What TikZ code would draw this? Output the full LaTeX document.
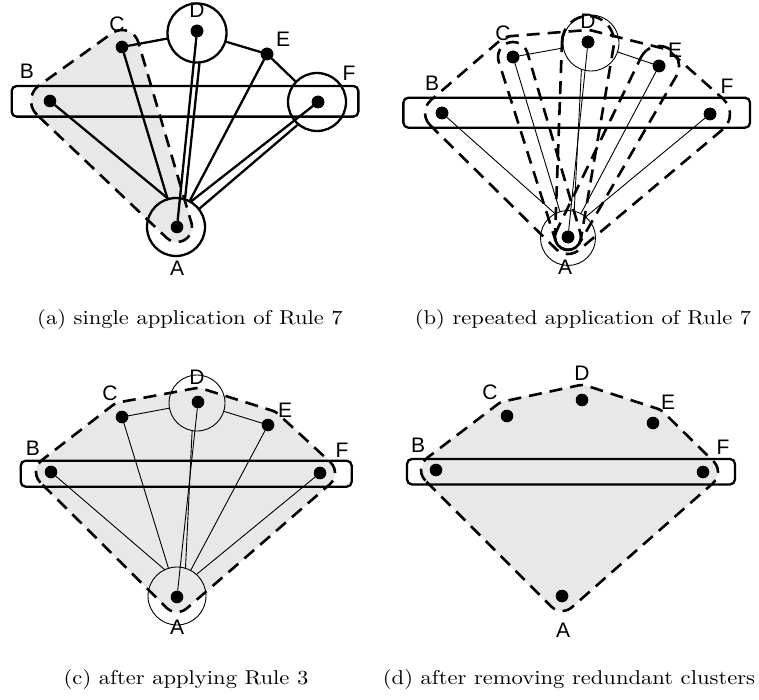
\documentclass[tikz,border=0pt]{standalone}
\usepackage{fontspec}
\usepackage{graphicx}
\newfontfamily\labelfont{Liberation Sans}
\newfontfamily\captionfont{lmroman10-regular.otf}
\usetikzlibrary{calc}

\tikzset{
  dot/.style={circle, fill=black, inner sep=0pt, outer sep=0pt, minimum size=12.6pt},
  thickring/.style={circle, draw, line width=2.3pt, inner sep=0pt, outer sep=0pt, minimum size=#1},
  thinring/.style={circle, draw, line width=0.9pt, inner sep=0pt, outer sep=0pt, minimum size=#1},
  band/.style={draw, line width=2.3pt, rounded corners=5pt, inner sep=0pt, outer sep=0pt},
  vlabel/.style={font=\labelfont\fontsize{21pt}{21pt}\selectfont, inner sep=0pt},
  subcaption/.style={font=\captionfont\fontsize{20pt}{24pt}\selectfont, inner sep=0pt, anchor=base},
  heavy/.style={line width=2.3pt},
  light/.style={line width=0.9pt},
  hullline/.style={draw, line width=2.6pt, dash pattern=on 13pt off 8pt},
  hullarea/.style={hullline, fill=black!9},
}

% Offset hull around a clockwise list of vertices, each with its own radius.
% #1 style, #2/#3 last vertex and radius, #4/#5 first vertex and radius,
% #6 list of prev/r/vertex/r/next/r triples.
\newcommand\clusterhull[6]{%
  \path[#1] let \p1=(#2.center), \p2=(#4.center),
      \n1={atan2(\y2-\y1,\x2-\x1)+acos((#3-#5)/veclen(\x2-\x1,\y2-\y1))}
    in ($(#4.center)+(\n1:#5)$)
    \foreach \va/\ra/\vb/\rb/\vc/\rc in {#6} {
      let \p1=(\va.center), \p2=(\vb.center), \p3=(\vc.center),
          \n1={atan2(\y2-\y1,\x2-\x1)+acos((\ra-\rb)/veclen(\x2-\x1,\y2-\y1))},
          \n2={atan2(\y3-\y2,\x3-\x2)+acos((\rb-\rc)/veclen(\x3-\x2,\y3-\y2))},
          \n3={mod(\n1-\n2+720,360)}
      in -- ($(\vb.center)+(\n1:\rb)$) arc[start angle=\n1, delta angle=-\n3, radius=\rb]
    } -- cycle;%
}

\begin{document}
\begin{tikzpicture}[x=1pt,y=1pt]
\useasboundingbox (0,0) rectangle (759,-700);

% ---------------- (a) single application of Rule 7
\node[dot] (aA) at (177,-227) {};
\node[dot] (aB) at (50,-101) {};
\node[dot] (aC) at (122,-47) {};
\node[dot] (aD) at (197,-31) {};
\node[dot] (aE) at (267,-54) {};
\node[dot] (aF) at (318,-102) {};
\clusterhull{hullarea}{aA}{15}{aB}{19}{aA/15/aB/19/aC/17, aB/19/aC/17/aA/15, aC/17/aA/15/aB/19}
\node[thickring=59pt] (aDc) at (197,-33) {};
\node[thickring=58pt] (aAc) at (176,-227) {};
\node[thickring=58pt] (aFc) at (317,-102) {};
\node[band, minimum width=346.7pt, minimum height=30.7pt] (aR) at (185,-101.3) {};
\draw[heavy] (aC) -- (aDc);
\draw[heavy] (aDc) -- (aE);
\draw[heavy] (aE) -- (aFc);
\draw[heavy] (aB) -- (aAc.105);
\draw[heavy] (aC) -- (aAc);
\draw[heavy] (aD) -- (aA);
\draw[heavy] (aDc.-85) -- (aAc.72);
\draw[heavy] (aE) -- (aAc);
\draw[heavy] (aF) -- (aAc.60);
\draw[heavy] (aFc.-130) -- (aAc.38);
\foreach \v in {A,B,C,D,E,F} \node[dot] at (a\v) {};
\node[vlabel] (aAl) at (177,-268) {A};
\node[vlabel] (aBl) at (27,-71) {B};
\node[vlabel] (aCl) at (117,-24) {C};
\node[vlabel] (aDl) at (197,-10) {D};
\node[vlabel] (aEl) at (283,-39) {E};
\node[vlabel] (aFl) at (349,-73) {F};
\node[subcaption] (capA) at (190,-324) {\scalebox{1.13}[1]{(a) single application of Rule 7}};

% ---------------- (b) repeated application of Rule 7
\node[dot] (bA) at (568,-237) {};
\node[dot] (bB) at (442,-113) {};
\node[dot] (bC) at (513,-57) {};
\node[dot] (bD) at (588,-42) {};
\node[dot] (bE) at (659,-66) {};
\node[dot] (bF) at (710,-114) {};
\clusterhull{hullline}{bA}{17}{bB}{17}{bA/17/bB/17/bC/21, bB/17/bC/21/bD/12, bC/21/bD/12/bE/18, bD/12/bE/18/bF/20, bE/18/bF/20/bA/17, bF/20/bA/17/bB/17}
\clusterhull{hullline}{bA}{13}{bC}{15}{bA/13/bC/15/bA/13, bC/15/bA/13/bC/15}
\clusterhull{hullline}{bA}{13}{bD}{26}{bA/13/bD/26/bA/13, bD/26/bA/13/bD/26}
\clusterhull{hullline}{bA}{13}{bE}{20}{bA/13/bE/20/bA/13, bE/20/bA/13/bE/20}
\node[thinring=56pt] (bDc) at (591,-43) {};
\node[thinring=55pt] (bAc) at (568,-238) {};
\node[band, minimum width=346.7pt, minimum height=30pt] (bR) at (576.7,-112.7) {};
\draw[light] (bC) -- (bDc);
\draw[light] (bDc) -- (bE);
\draw[light] (bB) -- (bAc.118);
\draw[light] (bC) -- (bAc);
\draw[light] (bD) -- (bA);
\draw[light] (bDc.-110) -- (bAc.77);
\draw[light] (bE) -- (bAc);
\draw[light] (bF) -- (bAc.50);
\foreach \v in {A,B,C,D,E,F} \node[dot] at (b\v) {};
\node[vlabel] (bAl) at (565,-267) {A};
\node[vlabel] (bBl) at (432,-83) {B};
\node[vlabel] (bCl) at (503,-33) {C};
\node[vlabel] (bDl) at (588,-21) {D};
\node[vlabel] (bEl) at (675,-50) {E};
\node[vlabel] (bFl) at (727,-86) {F};
\node[subcaption] (capB) at (583,-324) {\scalebox{1.13}[1]{(b) repeated application of Rule 7}};

% ---------------- (c) after applying Rule 3
\node[dot] (cA) at (177,-597) {};
\node[dot] (cB) at (51,-472) {};
\node[dot] (cC) at (122,-417) {};
\node[dot] (cD) at (198,-402) {};
\node[dot] (cE) at (268,-425) {};
\node[dot] (cF) at (320,-473) {};
\clusterhull{hullarea}{cA}{15}{cB}{15}{cA/15/cB/15/cC/15, cB/15/cC/15/cD/14, cC/15/cD/14/cE/15, cD/14/cE/15/cF/15, cE/15/cF/15/cA/15, cF/15/cA/15/cB/15}
\node[thinring=56pt] (cDc) at (197,-403) {};
\node[thinring=58pt] (cAc) at (177,-596) {};
\node[band, minimum width=331pt, minimum height=26pt] (cR) at (186.2,-473.7) {};
\draw[light] (cC) -- (cDc);
\draw[light] (cDc) -- (cE);
\draw[light] (cB) -- (cAc.115);
\draw[light] (cC) -- (cAc);
\draw[light] (cD) -- (cA);
\draw[light] (cDc.-100) -- (cAc.73);
\draw[light] (cE) -- (cAc);
\draw[light] (cF) -- (cAc.48);
\foreach \v in {A,B,C,D,E,F} \node[dot] at (c\v) {};
\node[vlabel] (cAl) at (177,-627) {A};
\node[vlabel] (cBl) at (33,-448) {B};
\node[vlabel] (cCl) at (110,-393) {C};
\node[vlabel] (cDl) at (197,-377) {D};
\node[vlabel] (cEl) at (285,-410) {E};
\node[vlabel] (cFl) at (342,-450) {F};
\node[subcaption] (capC) at (186,-684) {\scalebox{1.13}[1]{(c) after applying Rule 3}};

% ---------------- (d) after removing redundant clusters
\node[dot] (dA) at (562,-596) {};
\node[dot] (dB) at (436,-470) {};
\node[dot] (dC) at (507,-416) {};
\node[dot] (dD) at (582,-400) {};
\node[dot] (dE) at (653,-423) {};
\node[dot] (dF) at (703,-472) {};
\clusterhull{hullarea}{dA}{15}{dB}{15}{dA/15/dB/15/dC/15, dB/15/dC/15/dD/15, dC/15/dD/15/dE/15, dD/15/dE/15/dF/15, dE/15/dF/15/dA/15, dF/15/dA/15/dB/15}
\node[band, minimum width=328pt, minimum height=25.5pt] (dR) at (571,-471.7) {};
\foreach \v in {A,B,C,D,E,F} \node[dot] at (d\v) {};
\node[vlabel] (dAl) at (563,-630) {A};
\node[vlabel] (dBl) at (418,-445) {B};
\node[vlabel] (dCl) at (490,-392) {C};
\node[vlabel] (dDl) at (582,-373) {D};
\node[vlabel] (dEl) at (668,-402) {E};
\node[vlabel] (dFl) at (723,-447) {F};
\node[subcaption] (capD) at (569,-684) {\scalebox{1.13}[1]{(d) after removing redundant clusters}};
\end{tikzpicture}
\end{document}
